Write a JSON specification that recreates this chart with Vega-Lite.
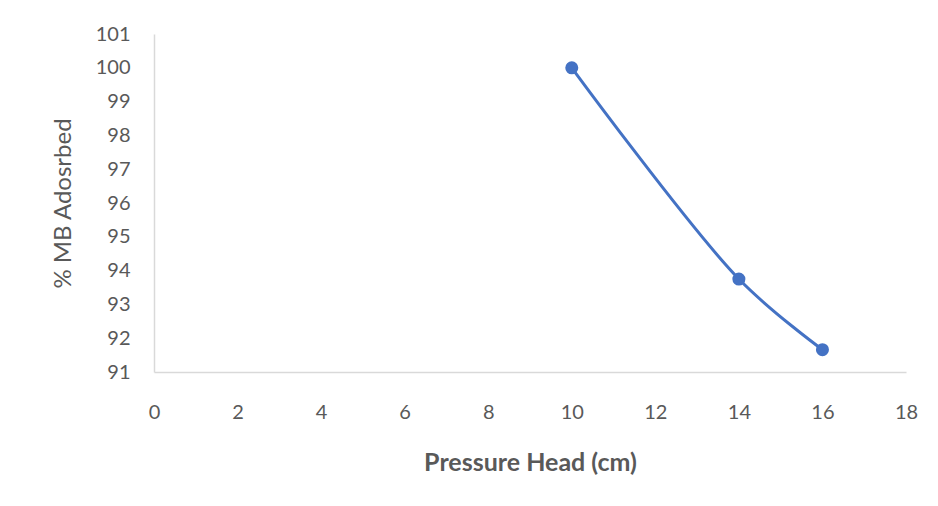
{
  "$schema": "https://vega.github.io/schema/vega-lite/v6.json",
  "autosize": {"type": "none"},
  "width": 752,
  "height": 338,
  "padding": {"left": 154, "top": 34, "right": 32, "bottom": 134},
  "background": "white",
  "config": {
    "view": {"stroke": null},
    "font": "Lato",
    "axis": {
      "domainColor": "#D9D9D9",
      "domainWidth": 1.5,
      "grid": false,
      "ticks": false,
      "labelColor": "#595959",
      "labelFont": "Lato",
      "labelFontSize": 20,
      "labelOverlap": false,
      "labelFlush": false,
      "titleColor": "#595959",
      "titleFont": "Lato"
    }
  },
  "data": {
    "values": [
      {"pressure": 10, "adsorbed": 100},
      {"pressure": 14, "adsorbed": 93.75},
      {"pressure": 16, "adsorbed": 91.66}
    ]
  },
  "encoding": {
    "x": {
      "field": "pressure",
      "type": "quantitative",
      "scale": {"domain": [0, 18], "nice": false, "zero": false},
      "axis": {
        "values": [0, 2, 4, 6, 8, 10, 12, 14, 16, 18],
        "title": "Pressure Head (cm)",
        "titleFontWeight": "bold",
        "titleFontSize": 25,
        "labelPadding": 30,
        "labelOverlap": false,
        "labelFlush": false,
        "titlePadding": 28
      }
    },
    "y": {
      "field": "adsorbed",
      "type": "quantitative",
      "scale": {"domain": [91, 101], "nice": false, "zero": false},
      "axis": {
        "values": [91, 92, 93, 94, 95, 96, 97, 98, 99, 100, 101],
        "title": "% MB Adosrbed",
        "titleFontWeight": "normal",
        "titleFontSize": 24,
        "labelPadding": 24,
        "labelOverlap": false,
        "labelFlush": false,
        "titlePadding": 20
      }
    }
  },
  "layer": [
    {
      "mark": {"type": "line", "color": "#4472C4", "strokeWidth": 3, "interpolate": "catmull-rom"}
    },
    {
      "mark": {"type": "point", "filled": true, "color": "#4472C4", "opacity": 1, "size": 170}
    }
  ]
}
